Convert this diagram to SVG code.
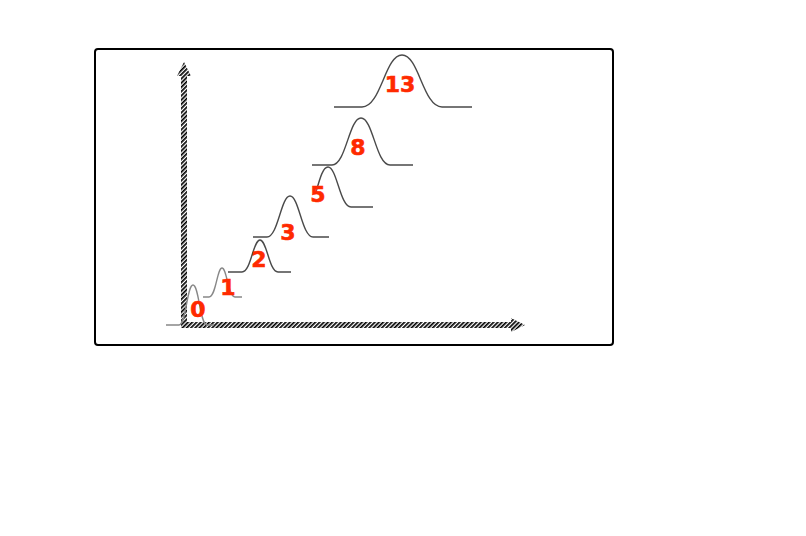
<svg xmlns="http://www.w3.org/2000/svg" width="806" height="536" viewBox="0 0 806 536">
<defs>
<pattern id="hatch" patternUnits="userSpaceOnUse" width="3" height="3" patternTransform="rotate(45)">
<rect width="3" height="3" fill="#fff"/>
<rect width="1.7" height="3" fill="#000"/>
</pattern>
</defs>
<style>
.curve{fill:none;stroke:#4a4a4a;stroke-width:1.4}
.light{stroke:#888}
.lbl{font-family:"DejaVu Sans",Verdana,sans-serif;font-weight:bold;font-size:22px;fill:#ff2a00;stroke:#ff2a00;stroke-width:0.6;text-anchor:middle}
.axis{fill:url(#hatch);stroke:none}
</style>
<rect width="806" height="536" fill="#fff"/>
<g id="frame"><rect x="95" y="49" width="518" height="296" rx="3" fill="#fff" stroke="#000" stroke-width="2"/></g>
<g id="connectors">
<path class="axis" d="M181,327 L181,76 L177,76 L184,62 L191,76 L187,76 L187,322 L511,322 L511,318 L525,325 L511,332 L511,328 L181,328 Z"/>
</g>
<g id="n0"><path class="curve light" d="M166,325 L179,325 C186,325 187,285 193,285 C199,285 200,325 207,325 L214,325"/><text class="lbl" x="198" y="317">0</text></g>
<g id="n1"><path class="curve light" d="M203,297 L209,297 C216,297 217,268 222,268 C227,268 228,297 235,297 L242,297"/><text class="lbl" x="228" y="295">1</text></g>
<g id="n2"><path class="curve" d="M228,272 L242,272 C251,272 253,240 260,240 C267,240 269,272 278,272 L291,272"/><text class="lbl" x="259" y="267">2</text></g>
<g id="n3"><path class="curve" d="M253,237 L267,237 C278,237 281,196 290,196 C299,196 302,237 313,237 L329,237"/><text class="lbl" x="288" y="240">3</text></g>
<g id="n5"><path class="curve" d="M316,192 C320,178 323,167 328,167 C337,167 340,207 351,207 L373,207"/><text class="lbl" x="318" y="202">5</text></g>
<g id="n8"><path class="curve" d="M312,165 L332,165 C346,165 349,118 361,118 C373,118 376,165 390,165 L413,165"/><text class="lbl" x="358" y="155">8</text></g>
<g id="n13"><path class="curve" d="M334,107 L362,107 C381,107 385,55 402,55 C419,55 423,107 442,107 L472,107"/><text class="lbl" x="400" y="92">13</text></g>
</svg>
